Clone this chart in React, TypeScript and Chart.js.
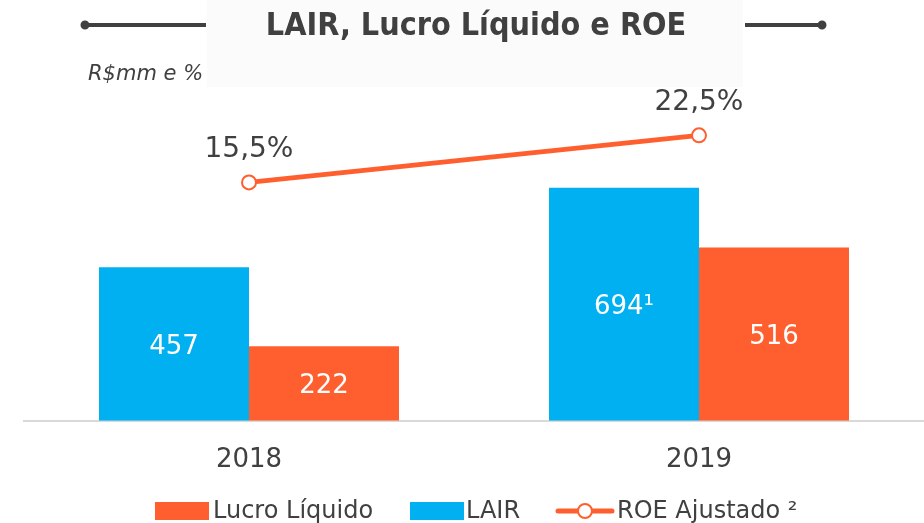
import React, { useEffect, useRef } from "react";
import { Chart, registerables } from "chart.js";

Chart.register(...registerables);

const categories = ["2018", "2019"];
const lairValues = [457, 694];
const lucroValues = [222, 516];
const roeValues = [15.5, 22.5];
const lairLabels = ["457", "694¹"];
const lucroLabels = ["222", "516"];
const roeLabels = ["15,5%", "22,5%"];
const seriesNames = ["LAIR", "Lucro Líquido", "ROE Ajustado ²"];
const legendOrder = [1, 0, 2];

const BLUE = "#00B0F0";
const ORANGE = "#FF5F2E";
const TEXT = "#404040";
const FONT = "'DejaVu Sans', Verdana, sans-serif";

const decorPlugin = {
  id: "decor",
  beforeDraw(chart: any) {
    const ctx = chart.ctx;
    ctx.save();
    ctx.fillStyle = "#fbfbfb";
    ctx.fillRect(207, 0, 536, 87);
    ctx.restore();
  },
  afterDraw(chart: any) {
    const ctx = chart.ctx;
    ctx.save();
    // title
    ctx.fillStyle = TEXT;
    ctx.font = "bold 32px 'DejaVu Sans Condensed', 'DejaVu Sans', sans-serif";
    ctx.textAlign = "center";
    ctx.textBaseline = "middle";
    ctx.fillText("LAIR, Lucro Líquido e ROE", 476, 27);
    // decoration lines
    ctx.strokeStyle = TEXT;
    ctx.lineWidth = 4;
    ctx.beginPath();
    ctx.moveTo(85, 25);
    ctx.lineTo(206, 25);
    ctx.moveTo(745, 25);
    ctx.lineTo(822, 25);
    ctx.stroke();
    ctx.fillStyle = TEXT;
    ctx.beginPath();
    ctx.arc(85, 25, 4.5, 0, Math.PI * 2);
    ctx.arc(822, 25, 4.5, 0, Math.PI * 2);
    ctx.fill();
    // subtitle
    ctx.font = "italic 21px " + FONT;
    ctx.textAlign = "left";
    ctx.fillText("R$mm e %", 88, 75);

    // legend
    ctx.font = "24px " + FONT;
    ctx.textBaseline = "middle";
    const ly = 511;
    const items = [
      { x: 155, textX: 213, type: "bar", color: ORANGE, label: seriesNames[legendOrder[0]] },
      { x: 410, textX: 466, type: "bar", color: BLUE, label: seriesNames[legendOrder[1]] },
      { x: 558, textX: 617, type: "line", color: ORANGE, label: seriesNames[legendOrder[2]] },
    ];
    for (const it of items) {
      if (it.type === "bar") {
        ctx.fillStyle = it.color;
        ctx.fillRect(it.x, ly - 9, 54, 18);
      } else {
        ctx.strokeStyle = it.color;
        ctx.lineWidth = 5;
        ctx.lineCap = "round";
        ctx.beginPath();
        ctx.moveTo(it.x, ly);
        ctx.lineTo(it.x + 54, ly);
        ctx.stroke();
        ctx.fillStyle = "#fff";
        ctx.lineWidth = 2;
        ctx.beginPath();
        ctx.arc(it.x + 27, ly, 7, 0, Math.PI * 2);
        ctx.fill();
        ctx.stroke();
      }
      ctx.fillStyle = TEXT;
      ctx.fillText(it.label, it.textX, ly + 1);
    }
    ctx.restore();
  },
  afterDatasetsDraw(chart: any) {
    const ctx = chart.ctx;
    ctx.save();
    ctx.textAlign = "center";
    ctx.textBaseline = "middle";
    ctx.font = "26px " + FONT;
    const barSets = [
      { idx: 0, labels: lairLabels },
      { idx: 1, labels: lucroLabels },
    ];
    for (const s of barSets) {
      const meta = chart.getDatasetMeta(s.idx);
      meta.data.forEach((el: any, i: number) => {
        ctx.fillStyle = "#ffffff";
        ctx.fillText(s.labels[i], el.x, (el.y + el.base) / 2 + 3);
      });
    }
    ctx.font = "28px " + FONT;
    const lineMeta = chart.getDatasetMeta(2);
    lineMeta.data.forEach((el: any, i: number) => {
      ctx.fillStyle = TEXT;
      ctx.fillText(roeLabels[i], el.x, el.y - 33);
    });
    ctx.restore();
  },
};

export default function App() {
  const ref = useRef<HTMLCanvasElement>(null);
  useEffect(() => {
    const chart = new Chart(ref.current!, {
      type: "bar",
      data: {
        labels: categories,
        datasets: [
          {
            type: "bar",
            label: seriesNames[0],
            data: lairValues,
            backgroundColor: BLUE,
            yAxisID: "y",
            order: 1,
            categoryPercentage: 2 / 3,
            barPercentage: 1,
          },
          {
            type: "bar",
            label: seriesNames[1],
            data: lucroValues,
            backgroundColor: ORANGE,
            yAxisID: "y",
            order: 1,
            categoryPercentage: 2 / 3,
            barPercentage: 1,
          },
          {
            type: "line",
            label: seriesNames[2],
            data: roeValues,
            borderColor: ORANGE,
            borderWidth: 5,
            pointRadius: 7,
            pointBorderWidth: 2,
            pointBackgroundColor: "#ffffff",
            pointBorderColor: ORANGE,
            yAxisID: "y2",
            order: 0,
          } as any,
        ],
      },
      options: {
        animation: false,
        responsive: false,
        layout: { autoPadding: false, padding: { left: 24, right: 0, top: 85, bottom: 31 } },
        plugins: { legend: { display: false }, tooltip: { enabled: false }, title: { display: false } },
        scales: {
          x: {
            grid: { display: false },
            border: { display: true, color: "#d9d9d9", width: 2 },
            ticks: { color: TEXT, font: { family: FONT, size: 26 }, padding: 16 },
          },
          y: { display: false, min: 0, max: 1000 },
          y2: { display: false, min: -20, max: 30 },
        },
      },
      plugins: [decorPlugin],
    });
    return () => chart.destroy();
  }, []);
  return (
    <div style={{ position: "fixed", left: 0, top: 0, width: 924, height: 523, background: "#fff" }}>
      <canvas ref={ref} width={924} height={523} style={{ display: "block" }} />
    </div>
  );
}
